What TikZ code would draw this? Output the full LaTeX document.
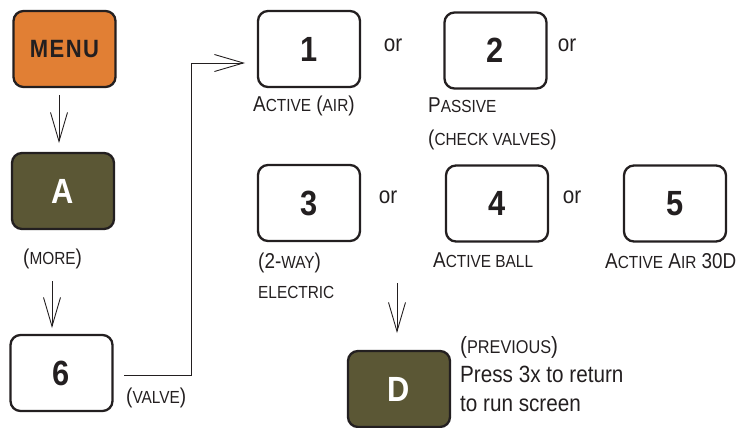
\documentclass[tikz,border=0pt]{standalone}
\usepackage{fontspec}
\setmainfont[FakeStretch=0.88]{Liberation Sans}
\usetikzlibrary{arrows.meta,calc}
\definecolor{linec}{RGB}{35,31,32}
\definecolor{menuor}{RGB}{225,127,52}
\definecolor{olive}{RGB}{91,87,53}
\newcommand\smc[1]{{\fontsize{17.5}{19}\selectfont #1}}
\newcommand\smcb[1]{{\fontsize{18.5}{20}\selectfont #1}}
\begin{document}
\begin{tikzpicture}[x=1pt,y=-1pt,
  btn/.style={draw=linec, line width=2.3pt, rounded corners=10pt, minimum width=102pt, minimum height=76pt, inner sep=0pt, font=\fontsize{35}{36}\selectfont\bfseries, text=linec},
  dark/.style={btn, fill=olive, text=white},
  lbl/.style={anchor=base west, inner sep=0pt, font=\fontsize{21.5}{24}\selectfont, text=linec},
  big/.style={anchor=base west, inner sep=0pt, font=\fontsize{23.5}{26}\selectfont, text=linec},
  orl/.style={anchor=base, inner sep=0pt, font=\fontsize{23.5}{26}\selectfont, text=linec},
  arr/.style={draw=linec, line width=0.9pt, -{Straight Barb[length=29pt,width=17pt,line width=0.9pt]}}
]
\useasboundingbox (0,0) rectangle (745,428);
% boxes
\node[btn, fill=menuor, font=\fontsize{25}{26}\selectfont\bfseries\addfontfeature{LetterSpace=6}] (menu) at (64.5,49) {MENU};
\node[dark] (a) at (63,191) {A};
\node[btn] (six) at (61.5,373) {6};
\node[btn] (one) at (309,49) {1};
\node[btn] (two) at (495.5,50.5) {2};
\node[btn] (three) at (309,203) {3};
\node[btn] (four) at (497,203.5) {4};
\node[btn] (five) at (675,203.5) {5};
\node[dark] (d) at (399,389) {D};
% labels
\node[lbl] (l1) at (253,112) {A\smc{CTIVE} (\smc{AIR})};
\node[lbl] (l2a) at (428,113) {P\smc{ASSIVE}};
\node[lbl] (l2b) at (428,145) {(\smc{CHECK VALVES})};
\node[lbl] (more) at (23,264) {(\smc{MORE})};
\node[lbl] (valve) at (126,403) {(\smc{VALVE})};
\node[lbl] (l3a) at (258,268) {(2-\smc{WAY})};
\node[lbl] (l3b) at (258,298) {\smc{ELECTRIC}};
\node[lbl] (l4) at (433,267) {A\smc{CTIVE BALL}};
\node[lbl] (l5) at (605,268) {A\smc{CTIVE} A\smc{IR} 30D};
\node[orl] (or1) at (393,52) {or};
\node[orl] (or2) at (567,52) {or};
\node[orl] (or3) at (388,203) {or};
\node[orl] (or4) at (572,203) {or};
\node[big] (prev) at (460,353) {(\smcb{PREVIOUS})};
\node[big] (press) at (460,382) {Press 3x to return};
\node[big] (run) at (460,411) {to run screen};
% connectors
\coordinate (ms) at (59,95);
\coordinate (ae) at (59,143);
\draw[arr] (ms) -- (ae);
\coordinate (mo) at (52,281);
\coordinate (me) at (52,328);
\draw[arr] (mo) -- (me);
\coordinate (vs) at (124,375);
\coordinate (vc) at (191,375);
\coordinate (ve) at (245,63);
\draw[arr] (vs) -- (vc) |- (ve);
\coordinate (ds) at (397,283);
\coordinate (de) at (397,333);
\draw[arr] (ds) -- (de);
\end{tikzpicture}
\end{document}
